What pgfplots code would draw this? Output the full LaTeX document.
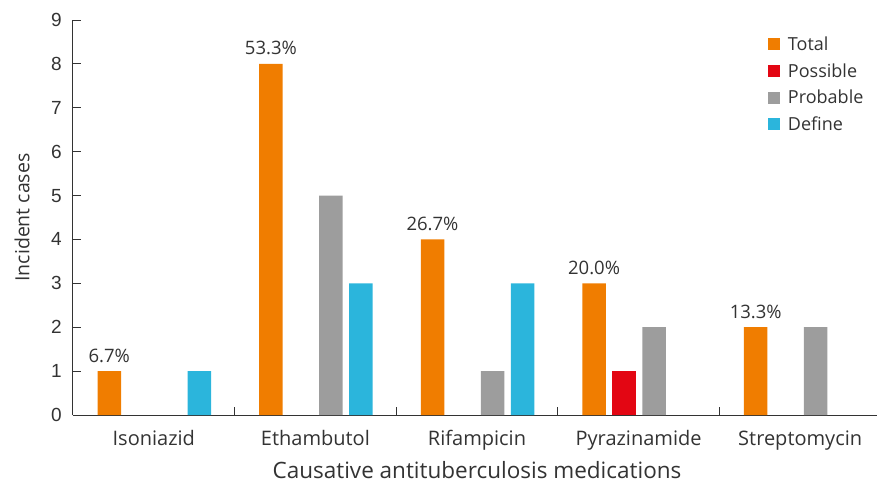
\documentclass[border=0pt]{standalone}
\usepackage{pgfplots}
\pgfplotsset{compat=1.18}
\usepackage{fontspec}
\setmainfont{Open Sans}
\newfontfamily\numfont{Liberation Sans}
\definecolor{cTotal}{HTML}{F07D00}
\definecolor{cPossible}{HTML}{E30613}
\definecolor{cProbable}{HTML}{9D9D9D}
\definecolor{cDefine}{HTML}{2BB5DC}
\definecolor{txt}{HTML}{333333}
\begin{document}
\begin{tikzpicture}
\path[use as bounding box] (-73bp,-73bp) rectangle (804bp,415bp);
\begin{axis}[
  at={(0,0)}, anchor=south west,
  scale only axis, width=808bp, height=395bp,
  xmin=-0.5, xmax=4.5, ymin=0, ymax=9,
  axis x line=bottom, axis y line=left,
  axis line style={-, draw=txt, line width=1bp},
  tick align=inside,
  ytick={0,1,2,3,4,5,6,7,8,9},
  xtick={-0.5,0.5,1.5,2.5,3.5,4.5},
  x tick label as interval,
  xticklabels={Isoniazid,Ethambutol,Rifampicin,Pyrazinamide,Streptomycin},
  major tick length=8bp,
  tick style={draw=txt, line width=1bp},
  /pgf/number format/assume math mode=true,
  yticklabel style={font=\numfont\fontsize{19bp}{22bp}\selectfont, text=txt, anchor=east, inner sep=0pt, xshift=-11bp},
  xticklabel style={font=\fontsize{20bp}{24bp}\selectfont, text=txt, anchor=base, inner sep=0pt, yshift=-30bp},
  xlabel={Causative antituberculosis medications},
  ylabel={Incident cases},
  xlabel style={font=\fontsize{22.5bp}{26bp}\selectfont, text=txt, at={(axis description cs:0.5,-0.139)}, anchor=center},
  ylabel style={font=\fontsize{19.5bp}{24bp}\selectfont, text=txt, at={(axis description cs:-0.063,0.5)}, anchor=center, rotate=0},
  legend style={at={(rel axis cs:0.8605,0.962)}, anchor=north west, draw=none, fill=none, inner sep=0pt, row sep=8.5bp,
    font=\fontsize{18bp}{21bp}\selectfont, text=txt, nodes={inner sep=1.5bp}},
  legend cell align=left,
  clip=false,
]
\addplot[ybar, bar width=23.5bp, bar shift=-44.5bp, fill=cTotal, draw=none,
  legend image code/.code={\fill[cTotal] (0bp,-6bp) rectangle (12bp,6bp); \path (18bp,0bp);},
  nodes near coords, point meta=explicit symbolic,
  nodes near coords style={font=\fontsize{18.5bp}{21bp}\selectfont, text=txt, anchor=base, inner sep=0pt, yshift=9bp, xshift=-44.5bp}]
  coordinates {(0,1) [6.7\%] (1,8) [53.3\%] (2,4) [26.7\%] (3,3) [20.0\%] (4,2) [13.3\%]};
\addlegendentry{Total}
\addplot[ybar, bar width=23.5bp, bar shift=-14.5bp, fill=cPossible, draw=none,
  legend image code/.code={\fill[cPossible] (0bp,-6bp) rectangle (12bp,6bp); \path (18bp,0bp);}]
  coordinates {(3,1)};
\addlegendentry{Possible}
\addplot[ybar, bar width=23.5bp, bar shift=15.5bp, fill=cProbable, draw=none,
  legend image code/.code={\fill[cProbable] (0bp,-6bp) rectangle (12bp,6bp); \path (18bp,0bp);}]
  coordinates {(1,5) (2,1) (3,2) (4,2)};
\addlegendentry{Probable}
\addplot[ybar, bar width=23.5bp, bar shift=45.5bp, fill=cDefine, draw=none,
  legend image code/.code={\fill[cDefine] (0bp,-6bp) rectangle (12bp,6bp); \path (18bp,0bp);}]
  coordinates {(0,1) (1,3) (2,3)};
\addlegendentry{Define}
\end{axis}
\end{tikzpicture}
\end{document}
